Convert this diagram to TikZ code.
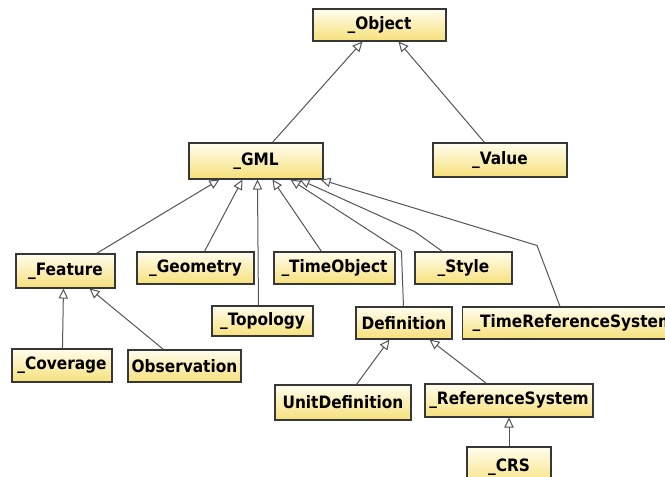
\documentclass[tikz,border=0pt]{standalone}
\usepackage{fontspec}
\newfontfamily\boxfont{DejaVu Sans Condensed Bold}
\usetikzlibrary{arrows.meta,calc}
\definecolor{boxtop}{RGB}{255,253,238}
\definecolor{boxbot}{RGB}{247,224,122}
\definecolor{boxline}{RGB}{55,55,55}
\definecolor{conn}{RGB}{85,85,85}
\tikzset{
  classbox/.style={draw=boxline, line width=0.8pt, top color=boxtop, bottom color=boxbot,
    font=\boxfont\fontsize{12.8}{14}\selectfont, text=black, inner sep=0pt, rectangle},
  gen/.style={draw=conn, line width=0.75pt, -{Triangle[open,length=7.5pt,width=7pt,line width=0.75pt]}}
}
\begin{document}
\begin{tikzpicture}[x=0.75pt,y=-0.75pt]
\useasboundingbox (0,0) rectangle (665,477);
\clip (0,0) rectangle (665,477);
\fill[white] (0,0) rectangle (665,477);
% nodes
\node[classbox, minimum width=99.75pt, minimum height=24pt] (obj) at (379.5,25) {\_Object};
\node[classbox, minimum width=100.5pt, minimum height=27pt] (gml) at (256,161) {\_GML};
\node[classbox, minimum width=100.5pt, minimum height=25.5pt] (val) at (500,160) {\_Value};
\node[classbox, minimum width=74.25pt, minimum height=25.5pt] (feat) at (65.5,271) {\_Feature};
\node[classbox, minimum width=87.75pt, minimum height=24pt] (geom) at (195.5,268) {\_Geometry};
\node[classbox, minimum width=90.75pt, minimum height=24pt] (tobj) at (334.5,268) {\_TimeObject};
\node[classbox, minimum width=72.75pt, minimum height=24pt] (style) at (463.5,268) {\_Style};
\node[classbox, minimum width=75.75pt, minimum height=22.5pt] (topo) at (262.5,321) {\_Topology};
\node[classbox, minimum width=72pt, minimum height=24pt] (defn) at (404,323) {Definition};
\node[classbox, anchor=west, inner xsep=7.5pt, minimum height=24pt] (trs) at (462,323) {\_TimeReferenceSystem};
\node[classbox, minimum width=75pt, minimum height=24.75pt] (cov) at (62,365.5) {\_Coverage};
\node[classbox, minimum width=84.75pt, minimum height=24pt] (obs) at (184.5,366) {Observation};
\node[classbox, minimum width=102pt, minimum height=26.25pt] (unit) at (343,402.5) {UnitDefinition};
\node[classbox, minimum width=126pt, minimum height=24.75pt] (refs) at (509,400.5) {\_ReferenceSystem};
\node[classbox, minimum width=63pt, minimum height=30pt] (crs) at (509,467) {\_CRS};
% connectors
\draw[gen] ($(gml.north west)+(84,0)$) -- ($(obj.south west)+(50,0)$);
\draw[gen] ($(val.north west)+(52,0)$) -- ($(obj.south west)+(86,0)$);
\draw[gen] ($(feat.north west)+(81,0)$) -- ($(gml.south west)+(31,0)$);
\draw[gen] ($(geom.north west)+(68,0)$) -- ($(gml.south west)+(54,0)$);
\draw[gen] ($(topo.north west)+(47,0)$) -- ($(gml.south west)+(69,0)$);
\draw[gen] ($(tobj.north west)+(48,0)$) -- ($(gml.south west)+(84,0)$);
\draw[gen] ($(defn.north west)+(48,0)$) -- ($(defn.north west)+(46,-55)$) -- ($(gml.south west)+(102,0)$);
\draw[gen] ($(style.north west)+(28,0)$) -- ($(style.north west)+(0,-20)$) -- ($(gml.south west)+(111,0)$);
\draw[gen] ($(trs.north west)+(98,0)$) -- ($(trs.north west)+(75,-61)$) -- ($(gml.south east)+(-3,0)$);
\draw[gen] ($(cov.north west)+(51,0)$) -- ($(feat.south west)+(48,0)$);
\draw[gen] ($(obs.north west)+(36,0)$) -- ($(feat.south west)+(74,0)$);
\draw[gen] ($(unit.north west)+(82,0)$) -- ($(defn.south west)+(34,0)$);
\draw[gen] ($(refs.north west)+(62,0)$) -- ($(defn.south west)+(74,0)$);
\draw[gen] (crs.north) -- (refs.south);
\end{tikzpicture}
\end{document}
